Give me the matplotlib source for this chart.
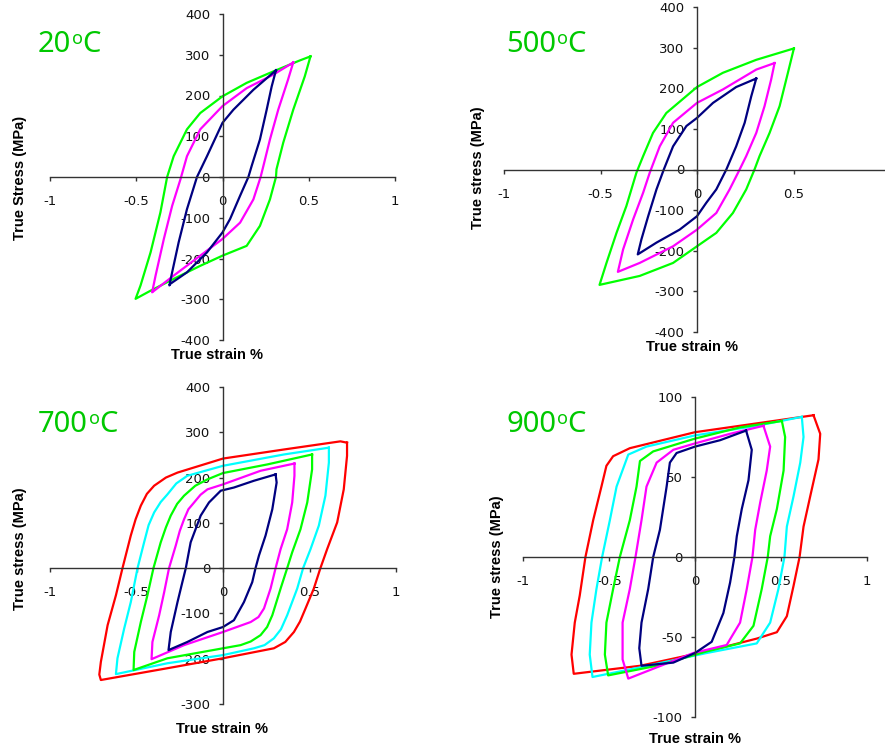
import matplotlib
matplotlib.use('Agg')
import matplotlib.pyplot as plt
from matplotlib.ticker import FuncFormatter

plt.rcParams['axes.unicode_minus'] = False

# ---- data (strain %, stress MPa) ----
# each loop: top-right tip -> unloading -> bottom-left tip -> reloading -> tip

# 20 C
s20_03 = [0.31, 0.285, 0.256, 0.217, 0.169, 0.15, 0.102, 0.044, 0.0, -0.09, -0.206, -0.302, -0.308,
          -0.292, -0.254, -0.206, -0.148, -0.09, 0.0, 0.063, 0.179, 0.31]
p20_03 = [262, 222, 165, 92, 27, 0, -46, -103, -136, -185, -234, -262, -266,
          -234, -160, -79, 0, 51, 133, 165, 214, 262]
s20_04 = [0.41, 0.38, 0.323, 0.275, 0.237, 0.221, 0.179, 0.102, 0.0, -0.129, -0.283, -0.402, -0.408,
          -0.388, -0.34, -0.292, -0.244, -0.206, -0.129, 0.0, 0.14, 0.294, 0.41]
p20_04 = [281, 239, 165, 92, 27, 0, -55, -112, -152, -193, -242, -281, -283,
          -242, -152, -71, -6, 51, 117, 174, 218, 251, 281]
s20_05 = [0.51, 0.477, 0.41, 0.352, 0.313, 0.31, 0.275, 0.217, 0.14, 0.0, -0.129, -0.283, -0.417, -0.504,
          -0.475, -0.417, -0.36, -0.321, -0.283, -0.206, -0.129, 0.0, 0.14, 0.294, 0.448, 0.51]
p20_05 = [296, 247, 165, 84, 19, 0, -55, -120, -169, -193, -218, -250, -279, -299,
          -266, -185, -87, 0, 51, 117, 157, 198, 231, 259, 286, 296]

# 500 C
s500_03 = [0.307, 0.281, 0.247, 0.203, 0.152, 0.1, 0.048, 0.0, -0.09, -0.21, -0.307,
           -0.288, -0.253, -0.21, -0.172, -0.124, -0.055, 0.0, 0.083, 0.203, 0.307]
p500_03 = [224, 180, 115, 57, 0, -49, -82, -115, -148, -180, -209,
           -172, -115, -49, 0, 57, 107, 127, 164, 203, 224]
s500_04 = [0.402, 0.384, 0.35, 0.307, 0.255, 0.221, 0.169, 0.1, 0.0, -0.124, -0.297, -0.41,
           -0.383, -0.331, -0.279, -0.245, -0.193, -0.124, 0.0, 0.134, 0.307, 0.402]
p500_04 = [262, 221, 156, 90, 33, 0, -49, -107, -148, -189, -230, -252,
           -197, -123, -57, -8, 57, 115, 164, 197, 246, 262]
s500_05 = [0.502, 0.471, 0.428, 0.376, 0.324, 0.298, 0.255, 0.186, 0.1, 0.0, -0.124, -0.297, -0.505,
           -0.469, -0.417, -0.366, -0.314, -0.279, -0.228, -0.159, 0.0, 0.134, 0.307, 0.502]
p500_05 = [298, 238, 156, 90, 33, 0, -49, -107, -156, -189, -230, -262, -284,
           -230, -156, -90, -8, 33, 90, 139, 203, 238, 270, 298]

# 700 C
s700_03 = [0.304, 0.31, 0.285, 0.246, 0.208, 0.188, 0.169, 0.121, 0.063, 0.0, -0.09, -0.206, -0.315,
           -0.302, -0.263, -0.235, -0.215, -0.187, -0.129, -0.081, -0.013, 0.063, 0.179, 0.304]
p700_03 = [207, 189, 130, 72, 28, 0, -31, -75, -115, -130, -141, -163, -181,
           -141, -75, -31, 0, 57, 116, 145, 171, 178, 193, 207]
s700_04 = [0.413, 0.413, 0.4, 0.371, 0.333, 0.304, 0.275, 0.237, 0.205, 0.16, 0.0, -0.225, -0.413,
           -0.408, -0.369, -0.34, -0.312, -0.273, -0.25, -0.225, -0.2, -0.167, -0.13, -0.09, 0.0, 0.217, 0.413]
p700_04 = [231, 204, 145, 86, 42, 0, -45, -89, -108, -119, -141, -170, -201,
           -163, -104, -53, 0, 50, 82, 108, 130, 145, 162, 174, 185, 215, 231]
s700_05 = [0.515, 0.515, 0.487, 0.448, 0.4, 0.371, 0.333, 0.285, 0.255, 0.217, 0.16, 0.102, 0.0, -0.321, -0.517,
           -0.513, -0.475, -0.437, -0.402, -0.36, -0.33, -0.302, -0.265, -0.225, -0.16, -0.09, 0.0, 0.256, 0.515]
p700_05 = [251, 218, 145, 86, 35, 0, -45, -104, -130, -148, -162, -170, -177, -199, -225,
           -185, -119, -60, 0, 57, 90, 116, 142, 160, 182, 196, 210, 229, 251]
s700_06 = [0.612, 0.612, 0.592, 0.554, 0.506, 0.463, 0.429, 0.371, 0.335, 0.294, 0.24, 0.179, 0.0, -0.321, -0.619,
           -0.61, -0.571, -0.533, -0.494, -0.456, -0.43, -0.398, -0.36, -0.321, -0.27, -0.206, 0.0, 0.352, 0.612]
p700_06 = [266, 233, 160, 94, 42, 0, -45, -104, -135, -155, -170, -177, -192, -210, -234,
           -199, -133, -75, 0, 57, 95, 123, 146, 163, 187, 204, 226, 251, 266]
s700_07 = [0.717, 0.717, 0.698, 0.66, 0.602, 0.563, 0.525, 0.477, 0.445, 0.41, 0.36, 0.294, 0.0, -0.321, -0.706,
           -0.715, -0.706, -0.667, -0.619, -0.581, -0.533, -0.505, -0.475, -0.44, -0.398, -0.33, -0.263,
           0.0, 0.352, 0.679, 0.717]
p700_07 = [277, 248, 174, 101, 42, 0, -45, -89, -118, -141, -163, -177, -199, -221, -247,
           -235, -207, -126, -60, 0, 72, 108, 138, 164, 182, 200, 211,
           242, 262, 280, 277]

# 900 C
s900_03 = [0.297, 0.33, 0.311, 0.272, 0.243, 0.229, 0.204, 0.165, 0.097, 0.0, -0.126, -0.311,
           -0.324, -0.311, -0.272, -0.243, -0.204, -0.165, -0.146, -0.107, 0.0, 0.146, 0.297]
p900_03 = [79, 67, 48, 30, 13, 0, -16, -35, -53, -60, -66, -68,
           -57, -41, -20, 0, 17, 44, 59, 65, 69, 73, 79]
s900_04 = [0.398, 0.437, 0.417, 0.379, 0.35, 0.334, 0.301, 0.262, 0.184, -0.01, -0.223, -0.388,
           -0.421, -0.421, -0.379, -0.346, -0.311, -0.282, -0.223, -0.126, 0.0, 0.204, 0.398]
p900_04 = [82, 69, 54, 34, 17, 0, -20, -41, -55, -60, -69, -76,
           -64, -41, -20, 0, 23, 44, 59, 67, 71, 77, 82]
s900_05 = [0.505, 0.524, 0.515, 0.476, 0.437, 0.423, 0.388, 0.34, 0.262, 0.068, -0.223, -0.505,
           -0.524, -0.515, -0.476, -0.437, -0.379, -0.34, -0.32, -0.243, 0.0, 0.262, 0.505]
p900_05 = [85, 75, 54, 30, 13, 0, -20, -43, -54, -59, -68, -74,
           -61, -41, -20, 0, 23, 44, 60, 66, 74, 81, 85]
s900_06 = [0.621, 0.631, 0.612, 0.573, 0.534, 0.52, 0.485, 0.437, 0.359, 0.068, -0.32, -0.596,
           -0.612, -0.602, -0.573, -0.54, -0.495, -0.456, -0.388, -0.282, 0.0, 0.359, 0.621]
p900_06 = [87.6, 75, 59, 38, 19, 0, -20, -41, -54, -60, -69, -75,
           -61, -41, -20, 0, 23, 44, 64, 69, 76, 82, 87.6]
s900_07 = [0.689, 0.728, 0.718, 0.67, 0.631, 0.608, 0.573, 0.534, 0.476, 0.359, 0.068, -0.32, -0.705,
           -0.718, -0.699, -0.67, -0.637, -0.592, -0.544, -0.515, -0.476, -0.379, 0.0, 0.456, 0.689]
p900_07 = [88.6, 77, 61, 38, 19, 0, -18, -37, -47, -51, -59, -68, -73,
           -61, -41, -24, 0, 23, 44, 57, 63, 68, 78, 85, 88.6]

titles = ['20', '500', '700', '900']
y_labels = ['True Stress (MPa)', 'True stress (MPa)', 'True stress (MPa)', 'True stress (MPa)']
x_ticks = [[-1, -0.5, 0, 0.5, 1], [-1, -0.5, 0, 0.5], [-1, -0.5, 0, 0.5, 1], [-1, -0.5, 0, 0.5, 1]]
y_ticks = [list(range(-400, 401, 100)), list(range(-400, 401, 100)),
           list(range(-300, 401, 100)), [-100, -50, 0, 50, 100]]

NAVY, MAG, LIME, CYAN, RED = '#000080', '#ff00ff', '#00ff00', '#00ffff', '#ff0000'
loops = [
    [(s20_05, p20_05, LIME), (s20_04, p20_04, MAG), (s20_03, p20_03, NAVY)],
    [(s500_05, p500_05, LIME), (s500_04, p500_04, MAG), (s500_03, p500_03, NAVY)],
    [(s700_07, p700_07, RED), (s700_06, p700_06, CYAN), (s700_05, p700_05, LIME),
     (s700_04, p700_04, MAG), (s700_03, p700_03, NAVY)],
    [(s900_07, p900_07, RED), (s900_06, p900_06, CYAN), (s900_05, p900_05, LIME),
     (s900_04, p900_04, MAG), (s900_03, p900_03, NAVY)],
]

# ---- layout in pixels (px of x=-1, px of x=1, top px of ymax, px of ymin) ----
W, H = 885, 749
boxes = [(50, 395, 14, 340), (504, 890, 7, 332), (50, 396, 387, 704), (523, 867, 397, 717)]
ylims = [(-400, 400), (-400, 400), (-300, 400), (-100, 100)]
title_pos = [(38, 52), (506, 52), (38, 432), (506, 432)]
ylab_pos = [(20, 178), (478, 168), (20, 549), (497, 557)]
xlab_pos = [(217, 355), (692, 347), (222, 729), (695, 739)]

fig = plt.figure(figsize=(W / 100, H / 100), dpi=100)
renderer = fig.canvas.get_renderer()
axis_col = '#333333'
title_col = '#00c800'


def fmt(v, pos):
    return '%g' % v


def title_text(x, y, num):
    # number, small raised "o", then "C"
    t = fig.text(x / W, 1 - y / H, num, color=title_col, fontsize=21,
                 family='Noto Sans', ha='left', va='baseline')
    x_end = t.get_window_extent(renderer).x1
    o = fig.text((x_end + 1) / W, 1 - (y - 8) / H, 'o', color=title_col, fontsize=13,
                 family='Noto Sans', ha='left', va='baseline')
    x_end = o.get_window_extent(renderer).x1
    fig.text((x_end - 1) / W, 1 - y / H, 'C', color=title_col, fontsize=21,
             family='Noto Sans', ha='left', va='baseline')


for i in range(4):
    x0, x1, yt, yb = boxes[i]
    ax = fig.add_axes([x0 / W, 1 - yb / H, (x1 - x0) / W, (yb - yt) / H])
    ax.set_xlim(-1, 1)
    ax.set_ylim(*ylims[i])
    ax.patch.set_alpha(0)
    for s, p, c in loops[i]:
        ax.plot(s, p, color=c, lw=1.6, solid_joinstyle='round')

    ax.spines['left'].set_position(('data', 0))
    ax.spines['bottom'].set_position(('data', 0))
    ax.spines['top'].set_visible(False)
    ax.spines['right'].set_visible(False)
    for sp in ('left', 'bottom'):
        ax.spines[sp].set_color(axis_col)
        ax.spines[sp].set_linewidth(1.0)
    ax.set_xticks(x_ticks[i])
    ax.set_yticks(y_ticks[i])
    ax.xaxis.set_major_formatter(FuncFormatter(fmt))
    ax.yaxis.set_major_formatter(FuncFormatter(fmt))
    ax.tick_params(axis='x', direction='out', length=3, width=1, color=axis_col,
                   pad=10, labelsize=9.5, labelcolor='#111111')
    ax.tick_params(axis='y', direction='out', length=3, width=1, color=axis_col,
                   pad=6, labelsize=9.5, labelcolor='#111111')

    tx, ty = title_pos[i]
    title_text(tx, ty, titles[i])
    lx, ly = ylab_pos[i]
    fig.text(lx / W, 1 - ly / H, y_labels[i], rotation=90, ha='center', va='center',
             fontsize=10.5, fontweight='bold', family='Liberation Sans')
    xx, xy = xlab_pos[i]
    fig.text(xx / W, 1 - xy / H, 'True strain %', ha='center', va='center',
             fontsize=10.5, fontweight='bold', family='Liberation Sans')

fig.savefig('out.png', dpi=100)
